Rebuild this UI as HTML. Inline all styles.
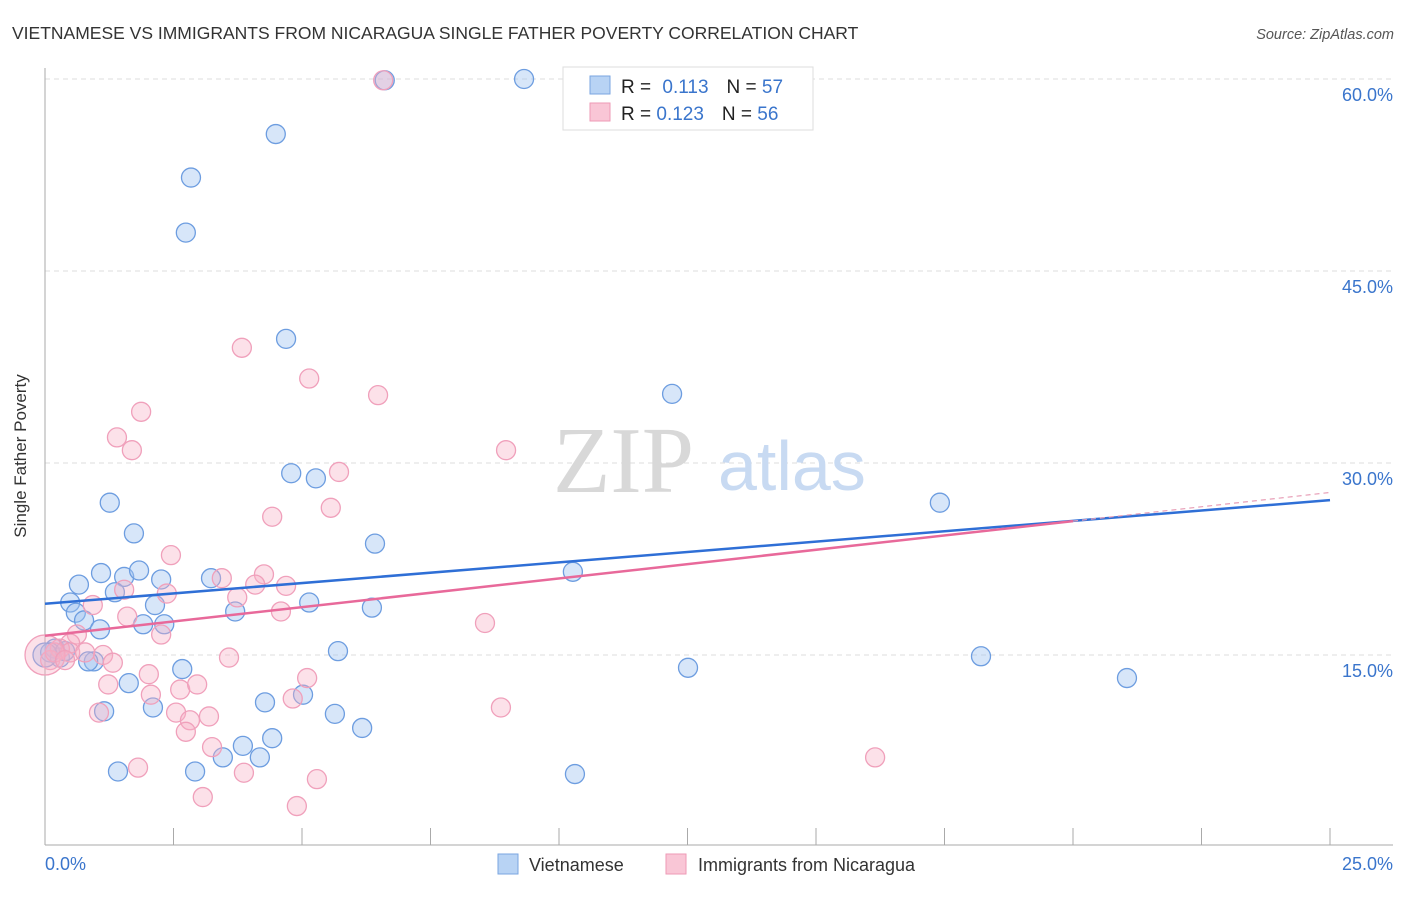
<!DOCTYPE html>
<html><head><meta charset="utf-8"><style>
body{margin:0;background:#fff;font-family:"Liberation Sans",sans-serif;}
svg text{font-family:"Liberation Sans",sans-serif;}
</style></head><body>
<svg id="chart" width="1406" height="892" viewBox="0 0 1406 892">
<text x="12" y="39" font-size="17.5" fill="#333">VIETNAMESE VS IMMIGRANTS FROM NICARAGUA SINGLE FATHER POVERTY CORRELATION CHART</text>
<text x="1394" y="39" font-size="14.5" fill="#555" font-style="italic" text-anchor="end">Source: ZipAtlas.com</text>
<g id="grid"></g>
<g>
<text x="553" y="492" font-size="94" font-family="Liberation Serif" fill="#d8d8d8" style="font-family:'Liberation Serif',serif">ZIP</text>
<text x="718" y="490" font-size="70" fill="#c8daf2">atlas</text>
</g>
<g id="axes"></g>
<g id="pts"></g>
<g id="lines"></g>
<text x="26" y="456" font-size="17" fill="#333" text-anchor="middle" transform="rotate(-90 26 456)">Single Father Poverty</text>
<g>
<rect x="563" y="67" width="250" height="63" fill="#fff" stroke="#ddd"/>
<rect x="590" y="76" width="20" height="18" fill="#b8d3f4" stroke="#7aa6e0"/>
<rect x="590" y="103" width="20" height="18" fill="#f9c6d6" stroke="#ee9ab6"/>
<text x="621" y="93" font-size="19" fill="#222">R = <tspan fill="#3a75cc" dx="6">0.113</tspan><tspan dx="18">N = </tspan><tspan fill="#3a75cc">57</tspan></text>
<text x="621" y="120" font-size="19" fill="#222">R = <tspan fill="#3a75cc">0.123</tspan><tspan dx="18">N = </tspan><tspan fill="#3a75cc">56</tspan></text>
</g>
<g>
<rect x="498" y="854" width="20" height="20" fill="#b8d3f4" stroke="#7aa6e0"/>
<text x="529" y="871" font-size="18" fill="#333">Vietnamese</text>
<rect x="666" y="854" width="20" height="20" fill="#f9c6d6" stroke="#ee9ab6"/>
<text x="698" y="871" font-size="18" fill="#333">Immigrants from Nicaragua</text>
</g>
</svg>
<script>
const xTicks=[0,2.5,5,7.5,10,12.5,15,17.5,20,22.5,25];
const yTicks=[15,30,45,60];
const yTickLabels=["15.0%","30.0%","45.0%","60.0%"];
const xTickLabels=["0.0%","25.0%"];
const blueX=[1.26,4.49,2.84,2.74,4.69,9.32,6.61,12.20,4.79,5.27,1.73,6.42,10.27,17.41,0.66,1.09,1.54,1.83,2.26,3.23,0.49,0.60,0.76,1.07,1.36,2.14,1.91,2.32,3.70,5.14,6.36,5.70,2.67,0.95,0.84,1.63,1.15,2.10,4.28,5.02,5.64,6.17,3.85,4.42,4.18,3.46,2.92,1.42,10.31,12.51,18.21,21.05,0.19,0.29,0.10,0.39,0.0];
const blueY=[26.9,55.7,52.3,48.0,39.7,60.0,59.9,35.4,29.2,28.8,24.5,23.7,21.5,26.9,20.5,21.4,21.1,21.6,20.9,21.0,19.1,18.3,17.7,17.0,19.9,18.9,17.4,17.4,18.4,19.1,18.7,15.3,13.9,14.5,14.5,12.8,10.6,10.9,11.3,11.9,10.4,9.3,7.9,8.5,7.0,7.0,5.9,5.9,5.7,14.0,14.9,13.2,15.5,14.8,15.2,15.3,15.0];
const pinkX=[6.58,3.83,5.14,6.48,1.87,1.40,1.69,8.97,5.72,4.42,5.56,2.45,4.26,3.44,4.09,4.69,3.74,2.37,1.54,0.93,1.60,4.59,2.26,0.62,0.49,1.13,1.32,3.58,2.02,1.23,2.63,2.96,5.10,2.06,4.82,8.56,8.87,1.05,2.55,3.19,2.82,2.74,3.25,3.87,5.29,1.81,3.07,4.90,16.15,0.29,0.10,0.19,0.49,0.0,0.39,0.78];
const pinkY=[59.9,39.0,36.6,35.3,34.0,32.0,31.0,31.0,29.3,25.8,26.5,22.8,21.3,21.0,20.5,20.4,19.5,19.8,20.1,18.9,18.0,18.4,16.6,16.6,15.9,15.0,14.4,14.8,13.5,12.7,12.3,12.7,13.2,11.9,11.6,17.5,10.9,10.5,10.5,10.2,9.9,9.0,7.8,5.8,5.3,6.2,3.9,3.2,7.0,15.5,14.6,15.2,15.2,15.0,14.6,15.2];
const blueTrend=[19.0,27.1];
const pinkTrend=[16.5,27.7];
const X=v=>45+v*51.4, Y=v=>847-v*12.8;
const NS="http://www.w3.org/2000/svg";
function mk(parent,tag,attrs){const e=document.createElementNS(NS,tag);for(const k in attrs)e.setAttribute(k,attrs[k]);document.getElementById(parent).appendChild(e);return e;}
yTicks.forEach((t,i)=>{
 const l=mk('grid','line',{x1:45,x2:1393,y1:Y(t),y2:Y(t),stroke:'#ddd','stroke-dasharray':'5,4'});
 
 
 const tx=mk('axes','text',{x:1393,y:Y(t)+22,'font-size':18,fill:'#3a75cc','text-anchor':'end'});
 tx.textContent=yTickLabels[i];
 
 
});
const ya=mk('axes','line',{x1:45,x2:45,y1:68,y2:845,stroke:'#aaa'});


const xa=mk('axes','line',{x1:45,x2:1393,y1:845,y2:845,stroke:'#aaa'});


xTicks.forEach(t=>{
 const l=mk('axes','line',{x1:X(t),x2:X(t),y1:828,y2:845,stroke:'#aaa'});
 
 
});
[[0,'start',45],[25,'end',1393]].forEach((a,i)=>{
 const tx=mk('axes','text',{x:a[2],y:870,'font-size':18,fill:'#3a75cc','text-anchor':a[1]});
 tx.textContent=xTickLabels[i];
 
 
});
function pts(xs,ys,fill,stroke,name){
 xs.forEach((x,i)=>{
  const big=(x===0&&ys[i]===15);
  const c=mk('pts','circle',{cx:X(x),cy:Y(ys[i]),r:big?(name==='point-nicaragua'?20:12):9.5,fill:fill,stroke:stroke,'stroke-width':1.3});
  
  
 });
}
pts(blueX,blueY,'rgba(160,195,240,0.42)','#6d9de0','point-vietnamese');
pts(pinkX,pinkY,'rgba(246,175,198,0.38)','#f0a0bb','point-nicaragua');
const bl=mk('lines','line',{x1:X(0),y1:Y(blueTrend[0]),x2:X(25),y2:Y(blueTrend[1]),stroke:'#2f6fd6','stroke-width':2.5});


const pm=pinkTrend[0]+(pinkTrend[1]-pinkTrend[0])*0.8;
const pl=mk('lines','line',{x1:X(0),y1:Y(pinkTrend[0]),x2:X(20),y2:Y(pm),stroke:'#e8699a','stroke-width':2.5});


const pd=mk('lines','line',{x1:X(20),y1:Y(pm),x2:X(25),y2:Y(pinkTrend[1]),stroke:'#e8a0b8','stroke-width':1.2,'stroke-dasharray':'5,4'});


</script>
</body></html>
